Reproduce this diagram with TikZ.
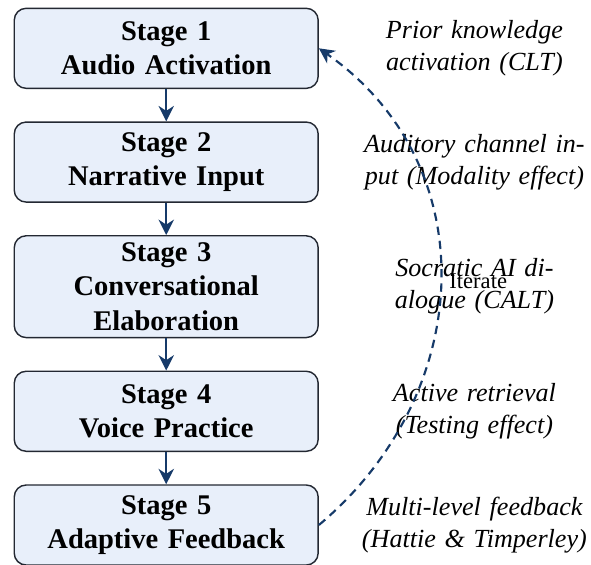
\documentclass[tikz,border=0pt]{standalone}
\usepackage{fontspec}
\setmainfont{Liberation Serif}
\usetikzlibrary{matrix,arrows.meta,positioning}

\definecolor{stagefill}{RGB}{232,239,250}
\definecolor{stagedraw}{RGB}{35,40,50}
\definecolor{flowblue}{RGB}{22,58,105}

\tikzset{
  stagebox/.style={draw=stagedraw, fill=stagefill, rounded corners=5pt, line width=0.6pt,
    text width=120pt, inner xsep=4pt, inner ysep=3pt, minimum height=33.7pt, align=center,
    font=\fontsize{12}{14.4}\selectfont\bfseries},
  note/.style={text width=95pt, align=center, font=\fontsize{11}{13.5}\selectfont\itshape},
  flow/.style={draw=flowblue, thick, -{Stealth[length=6.5pt,width=6.5pt]}}
}

\begin{document}
\begin{tikzpicture}
	\useasboundingbox (0,0) rectangle (248.9pt,-237.9pt);
	\matrix[matrix of nodes, name=m, inner sep=0pt, anchor=north west,
	  row sep=13.6pt, column sep=18pt, nodes={anchor=center},
	  column 1/.style={nodes=stagebox}, column 2/.style={nodes=note}] at (5.5pt,-3pt) {
	{Stage 1\\Audio Activation} &
	{Prior knowledge\\activation (CLT)} \\
	{Stage 2\\Narrative Input} &
	{Auditory channel in-\\put (Modality effect)} \\
	{Stage 3\\Conversational\\Elaboration} &
	{Socratic AI di-\\alogue (CALT)} \\
	{Stage 4\\Voice Practice} &
	{Active retrieval\\(Testing effect)} \\
	{Stage 5\\Adaptive Feedback} &
	{Multi-level feedback\\(Hattie \& Timperley)} \\ };
	\path[every edge/.append style={flow}]
	(m-1-1) edge (m-2-1)
	(m-2-1) edge (m-3-1)
	(m-3-1) edge (m-4-1)
	(m-4-1) edge (m-5-1)
	(m-5-1.east) edge[dash pattern=on 3.5pt off 2.5pt, line width=0.9pt, out=40, in=-35, looseness=1.1]
		node[right, text=black, font=\fontsize{9.5}{11}\selectfont] {Iterate} (m-1-1.east);
\end{tikzpicture}
\end{document}
